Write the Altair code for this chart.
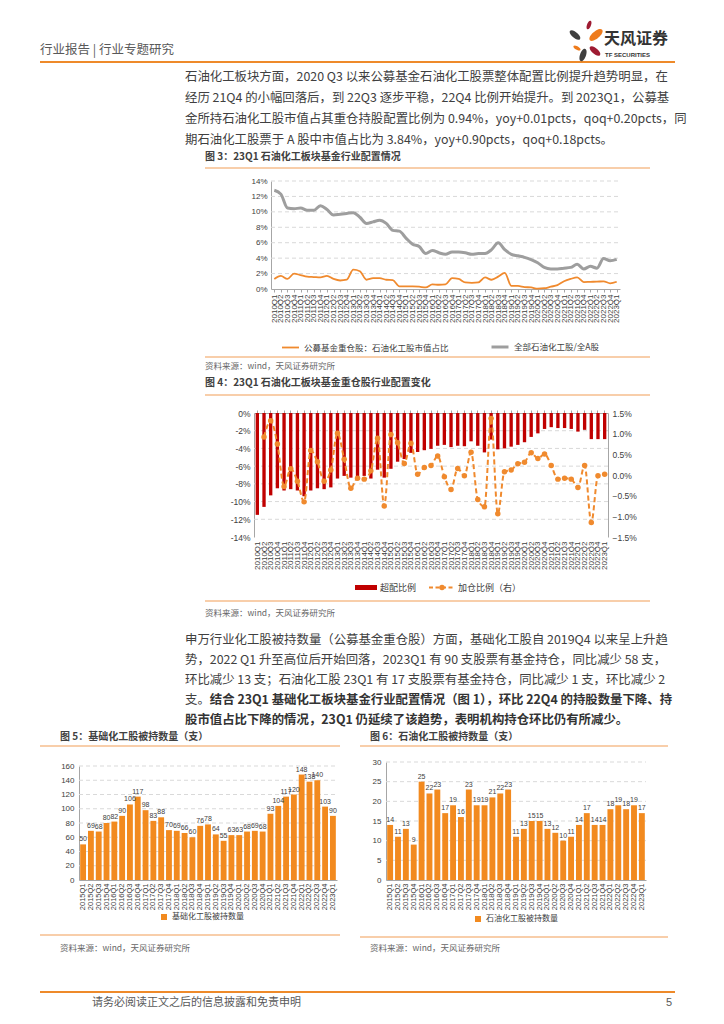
import altair as alt
import pandas as pd

CJK = "Noto Sans CJK SC"
LAT = "Liberation Sans"
W, H = 708, 1008

# ---------------- data ----------------
quarters_2010 = [f"{y}Q{q}" for y in range(2010, 2024) for q in (1, 2, 3, 4)][:53]
quarters_2015 = [f"{y}Q{q}" for y in range(2015, 2024) for q in (1, 2, 3, 4)][:33]

# Fig 3 (%)
fund_share = [1.3, 1.7, 1.3, 2.0, 1.8, 1.6, 1.55, 1.5, 1.7, 1.3,
              1.1, 1.2, 2.5, 2.3, 1.2, 1.4, 1.4, 1.2, 1.15, 0.35,
              0.35, 0.35, 0.3, 0.2, 0.6, 0.55, 0.6, 1.4, 1.3, 0.85,
              0.8, 0.85, 1.5, 1.2, 1.6, 2.1, 0.4, 0.4, 0.25, 0.2,
              0.05, 0.1, 0.3, 0.5, 1.0, 1.3, 1.5, 0.9, 0.93, 0.95,
              1.0, 0.74, 0.94]
all_share = [12.8, 12.3, 10.5, 10.4, 10.5, 10.2, 10.2, 10.8, 10.3, 9.6,
             9.7, 9.8, 9.9, 9.3, 8.5, 8.7, 8.9, 8.5, 7.6, 7.5,
             6.6, 5.8, 5.5, 4.6, 5.0, 4.7, 4.5, 4.8, 4.8, 4.7,
             4.5, 4.6, 4.6, 5.1, 6.0, 5.1, 4.5, 4.3, 4.1, 3.8,
             3.4, 2.8, 2.6, 2.6, 2.7, 2.8, 3.2, 2.6, 2.94, 2.7,
             3.95, 3.66, 3.84]

# Fig 4 (%)
overweight = [-11.5, -10.6, -9.3, -8.5, -8.75, -8.6, -8.75, -9.4, -8.75, -8.5,
              -8.6, -8.4, -7.4, -7.1, -7.3, -7.4, -7.1, -7.4, -6.4, -7.3,
              -6.3, -5.5, -5.2, -4.5, -4.4, -4.2, -4.05, -3.7, -3.6, -3.85,
              -3.7, -3.75, -3.2, -3.7, -4.45, -3.0, -4.1, -4.0, -3.8, -3.6,
              -3.3, -2.7, -2.3, -1.8, -1.6, -1.7, -1.7, -1.8, -2.1, -1.9,
              -2.95, -2.95, -2.95]
add_ratio = [None, 0.92, 1.31, 0.75, -0.28, 0.15, -0.15, -0.65, 0.59, 0.32,
             -0.15, 0.12, 1.01, 0.38, -0.32, -0.08, -0.1, 0.1, 0.89, -0.75,
             0.98, 0.78, 0.28, 0.77, 0.02, 0.18, 0.23, 0.46, -0.04, -0.35,
             0.16, -0.02, 0.55, -0.59, -0.77, 1.37, -0.94, 0.08, 0.12, 0.27,
             0.31, 0.54, 0.40, 0.51, 0.23, -0.1, -0.08, -0.1, -0.3, 0.23,
             -1.15, -0.02, 0.02]

# Fig 5 / Fig 6 (counts)
basic_count = [50, 69, 68, 80, 82, 90, 106, 117, 98, 83, 88, 70, 69, 66, 60, 76, 78,
               64, 55, 63, 63, 68, 69, 68, 93, 104, 117, 120, 148, 138, 140, 103, 90]
petro_count = [14, 11, 13, 9, 25, 22, 23, 17, 19, 16, 23, 19, 19, 21, 22, 23, 11,
               13, 15, 15, 13, 12, 10, 11, 14, 17, 14, 14, 18, 19, 18, 19, 17]

S3A = "公募基金重仓股：石油化工股市值占比"
S3B = "全部石油化工股/全A股"
S4A = "超配比例"
S4B = "加仓比例（右）"
S5 = "基础化工股被持数量"
S6 = "石油化工股被持数量"

y3_ticks = [0, 2, 4, 6, 8, 10, 12, 14]
y4_left_ticks = [-14, -12, -10, -8, -6, -4, -2, 0]
y4_right_ticks = [-1.5, -1.0, -0.5, 0.0, 0.5, 1.0, 1.5]
y5_ticks = [0, 20, 40, 60, 80, 100, 120, 140, 160]
y6_ticks = [0, 5, 10, 15, 20, 25, 30]

para1 = [
    "石油化工板块方面，2020 Q3 以来公募基金石油化工股票整体配置比例提升趋势明显，在",
    "经历 21Q4 的小幅回落后，到 22Q3 逐步平稳，22Q4 比例开始提升。到 2023Q1，公募基",
    "金所持石油化工股市值占其重仓持股配置比例为 0.94%，yoy+0.01pcts，qoq+0.20pcts，同",
    "期石油化工股票于 A 股中市值占比为 3.84%，yoy+0.90pcts，qoq+0.18pcts。",
]
para2 = [
    "申万行业化工股被持数量（公募基金重仓股）方面，基础化工股自 2019Q4 以来呈上升趋",
    "势，2022 Q1 升至高位后开始回落，2023Q1 有 90 支股票有基金持仓，同比减少 58 支，",
    "环比减少 13 支；石油化工股 23Q1 有 17 支股票有基金持仓，同比减少 1 支，环比减少 2",
]
para2_l4a = "支。"
para2_l4b = "结合 23Q1 基础化工板块基金行业配置情况（图 1），环比 22Q4 的持股数量下降、持"
para2_l5 = "股市值占比下降的情况，23Q1 仍延续了该趋势，表明机构持仓环比仍有所减少。"

SOURCE = "资料来源：wind，天风证券研究所"

# ---------------- style ----------------
OR_BAR = "#F28A1F"
OR_LINE = "#F08A2E"
GRAY_LINE = "#9E9E9E"
RED = "#C00000"
AXIS = "#A6A6A6"
GRID = "#D9D9D9"
RULE_LIGHT = "#F6BE8E"
RULE_DARK = "#EE8A2A"
TEXT = "#404040"
PFONT = 12.4

# plot rectangles (content px)
P3 = (263, 612, 173, 281)
P4 = (246, 600, 405, 529)
P5 = (71, 329, 758, 872)
P6 = (378, 638, 754, 872)

one = pd.DataFrame({"k": [0]})


def T(s, x, y, size=12, color=TEXT, weight="normal", align="left", font=CJK):
    return alt.Chart(one).mark_text(text=s, fontSize=size, color=color, fontWeight=weight,
                                    align=align, baseline="middle", font=font).encode(
        x=alt.value(x), y=alt.value(y))


def R(x1, x2, y, color=RULE_LIGHT, w=1.5):
    return alt.Chart(one).mark_rule(color=color, strokeWidth=w).encode(
        x=alt.value(x1), x2=alt.value(x2), y=alt.value(y))


def grid(ticks, domain, P):
    x0, x1, y0, y1 = P
    return alt.Chart(pd.DataFrame({"g": ticks})).mark_rule(
        color=GRID, strokeDash=[4, 3], strokeWidth=1).encode(
        y=alt.Y("g:Q", scale=alt.Scale(domain=domain, range=[y1, y0], nice=False, zero=False), axis=None),
        x=alt.value(x0), x2=alt.value(x1))


layers = []

# ---------------- header & logo ----------------
layers += [
    T("行业报告 | 行业专题研究", 32, 42, 12.5, "#595959"),
    R(32, 667, 54, RULE_DARK, 2),
]
PETAL = "M0,-1C0.6,-1,0.6,1,0,1C-0.6,1,-0.6,-1,0,-1Z"
for (px, py, sz, ang, col) in [
    (581, 17, 81, 20, "#9E1B32"),
    (588, 27, 256, 50, "#EE7B1C"),
    (567, 27, 169, 310, "#3F3F3F"),
    (569, 40, 64, 300, "#EE7B1C"),
    (587, 43, 169, 130, "#9E1B32"),
    (575, 47, 169, 20, "#3F3F3F"),
]:
    layers.append(alt.Chart(one).mark_point(shape=PETAL, filled=True, color=col, size=sz,
                                            angle=ang, opacity=1).encode(
        x=alt.value(px), y=alt.value(py)))
layers += [
    T("天风证券", 596, 31, 16, "#333333", "bold"),
    T("TF SECURITIES", 597, 47, 6, "#333333", "bold", font=LAT),
]

# ---------------- paragraph 1 ----------------
for i, line in enumerate(para1):
    layers.append(T(line, 177, 69 + 21 * i, PFONT))

# ---------------- Fig 3 ----------------
x0, x1, y0, y1 = P3
layers += [
    T("图 3：23Q1 石油化工板块基金行业配置情况", 197, 149, 10, TEXT, "bold"),
    R(197, 642, 160),
    grid(y3_ticks[1:], [0, 14], P3),
]
df3 = pd.DataFrame({"quarter": quarters_2010 * 2,
                    "series": [S3A] * 53 + [S3B] * 53,
                    "value": fund_share + all_share})
layers.append(alt.Chart(df3).mark_line(interpolate="monotone").encode(
    x=alt.X("quarter:N", sort=quarters_2010, title=None,
            scale=alt.Scale(type="point", padding=0.5, range=[x0, x1]),
            axis=alt.Axis(orient="bottom", offset=y1 - H, labelAngle=-90, labelFontSize=8,
                          labelFont=LAT, labelColor=TEXT, domainColor=AXIS, tickColor=AXIS,
                          tickSize=3, labelPadding=2)),
    y=alt.Y("value:Q", title=None,
            scale=alt.Scale(domain=[0, 14], range=[y1, y0], nice=False, zero=False),
            axis=alt.Axis(orient="left", offset=-x0, values=y3_ticks,
                          labelExpr="datum.value + '%'", ticks=False, grid=False,
                          domainColor=AXIS, labelFontSize=8, labelFont=LAT,
                          labelColor=TEXT, labelPadding=4)),
    color=alt.Color("series:N", scale=alt.Scale(domain=[S3A, S3B], range=[OR_LINE, GRAY_LINE]),
                    legend=alt.Legend(title=None, orient="none", legendX=273, legendY=329,
                                      direction="horizontal", symbolType="stroke", symbolSize=289,
                                      symbolStrokeWidth=2.5, labelFont=CJK, labelFontSize=8.5,
                                      labelColor=TEXT, columnPadding=36, padding=0)),
    strokeWidth=alt.StrokeWidth("series:N", scale=alt.Scale(domain=[S3A, S3B], range=[1.8, 3.0]),
                                legend=None),
))
layers += [
    R(197, 642, 349),
    T(SOURCE, 197, 358, 8.5, "#666666"),
]

# ---------------- Fig 4 ----------------
x0, x1, y0, y1 = P4
layers += [
    T("图 4：23Q1 石油化工板块基金重仓股行业配置变化", 197, 375, 10, TEXT, "bold"),
    R(197, 642, 387),
    grid([-12, -10, -8, -6, -4, -2], [-14, 0], P4),
]
df4 = pd.DataFrame({"quarter": quarters_2010, "over": overweight, "add": add_ratio})
layers.append(alt.Chart(df4).mark_bar(color=RED).encode(
    x=alt.X("quarter:N", sort=quarters_2010, title=None,
            scale=alt.Scale(type="band", paddingInner=0.5, paddingOuter=0.25, range=[x0, x1]),
            axis=alt.Axis(orient="top", offset=-y0, labels=False, ticks=True, tickSize=3,
                          tickColor=AXIS, domainColor=AXIS)),
    y=alt.Y("over:Q", title=None,
            scale=alt.Scale(domain=[-14, 0], range=[y1, y0], nice=False),
            axis=alt.Axis(orient="left", offset=-x0, values=y4_left_ticks,
                          labelExpr="datum.value + '%'", ticks=False, grid=False,
                          domainColor=AXIS, labelFontSize=8.5, labelFont=LAT,
                          labelColor=TEXT, labelPadding=4)),
))
xl4 = alt.Scale(type="point", padding=0.5, range=[x0, x1])
yl4 = alt.Scale(domain=[-1.5, 1.5], range=[y1, y0], nice=False, zero=False)
layers.append(alt.Chart(df4).mark_line(color=OR_LINE, strokeDash=[5, 3], strokeWidth=2,
                                       interpolate="monotone").encode(
    x=alt.X("quarter:N", sort=quarters_2010, title=None, scale=xl4,
            axis=alt.Axis(orient="bottom", offset=y1 - H, domain=False, ticks=False,
                          labelAngle=-90, labelFontSize=8, labelFont=LAT, labelColor=TEXT,
                          labelPadding=4)),
    y=alt.Y("add:Q", title=None, scale=yl4,
            axis=alt.Axis(orient="right", offset=x1 - W, values=y4_right_ticks,
                          labelExpr="format(datum.value, '.1f') + '%'", ticks=False, grid=False,
                          domainColor=AXIS, labelFontSize=8.5, labelFont=LAT,
                          labelColor=TEXT, labelPadding=4)),
))
layers.append(alt.Chart(df4).mark_point(filled=True, color=OR_LINE, size=30, opacity=1).encode(
    x=alt.X("quarter:N", sort=quarters_2010, scale=xl4, axis=None),
    y=alt.Y("add:Q", scale=yl4, axis=None),
))
# legend of fig 4
layers += [
    alt.Chart(one).mark_rect(color=RED).encode(x=alt.value(347), x2=alt.value(369),
                                               y=alt.value(577), y2=alt.value(582)),
    T(S4A, 372, 579.5, 9),
    alt.Chart(one).mark_rule(color=OR_LINE, strokeWidth=2, strokeDash=[4, 2.5]).encode(
        x=alt.value(421), x2=alt.value(447), y=alt.value(579.5)),
    alt.Chart(one).mark_point(filled=True, color=OR_LINE, size=30, opacity=1).encode(
        x=alt.value(434), y=alt.value(579.5)),
    T(S4B, 450, 579.5, 9),
    R(197, 642, 593),
    T(SOURCE, 197, 605, 8.5, "#666666"),
]

# ---------------- paragraph 2 ----------------
for i, line in enumerate(para2):
    layers.append(T(line, 177, 632 + 20 * i, PFONT))
layers += [
    T(para2_l4a, 177, 692, PFONT),
    T(para2_l4b, 177 + 2 * PFONT, 692, PFONT, "#333333", "bold"),
    T(para2_l5, 177, 712, PFONT, "#333333", "bold"),
]

# ---------------- Fig 5 & Fig 6 ----------------
layers += [
    T("图 5：基础化工股被持数量（支）", 52, 729, 10, TEXT, "bold"),
    T("图 6：石油化工股被持数量（支）", 362, 729, 10, TEXT, "bold"),
    R(32, 332, 738),
    R(352, 660, 738),
    grid(y5_ticks[1:], [0, 160], P5),
    grid(y6_ticks[1:], [0, 30], P6),
]


def count_chart(values, quarters, series, P, domain, ticks, legx, legy):
    x0, x1, y0, y1 = P
    df = pd.DataFrame({"quarter": quarters, "value": values, "series": series})
    xs = alt.Scale(type="band", paddingInner=0.25, paddingOuter=0.15, range=[x0, x1])
    ys = alt.Scale(domain=domain, range=[y1, y0], nice=False)
    bars = alt.Chart(df).mark_bar().encode(
        x=alt.X("quarter:N", sort=quarters, title=None, scale=xs,
                axis=alt.Axis(orient="bottom", offset=y1 - H, labelAngle=-90, ticks=False,
                              domainColor=AXIS, labelFontSize=7.5, labelFont=LAT,
                              labelColor=TEXT, labelPadding=3)),
        y=alt.Y("value:Q", title=None, scale=ys,
                axis=alt.Axis(orient="left", offset=-x0, values=ticks, ticks=False, grid=False,
                              domainColor=AXIS, labelFontSize=8, labelFont=LAT,
                              labelColor=TEXT, labelPadding=5)),
        color=alt.Color("series:N", scale=alt.Scale(domain=[series], range=[OR_BAR]),
                        legend=alt.Legend(title=None, orient="none", legendX=legx, legendY=legy,
                                          symbolType="square", symbolSize=36, labelFont=CJK,
                                          labelFontSize=8, labelColor=TEXT, padding=0)),
    )
    labels = alt.Chart(df).mark_text(baseline="bottom", dy=-2, fontSize=7, font=LAT,
                                     color=TEXT).encode(
        x=alt.X("quarter:N", sort=quarters, scale=xs, axis=None),
        y=alt.Y("value:Q", scale=ys, axis=None),
        text="value:Q",
    )
    return [bars, labels]


layers += count_chart(basic_count, quarters_2015, S5, P5, [0, 160], y5_ticks, 152, 905)
layers += count_chart(petro_count, quarters_2015, S6, P6, [0, 30], y6_ticks, 466, 907)

layers += [
    R(32, 332, 927),
    R(352, 660, 929),
    T(SOURCE, 52, 940, 8.5, "#666666"),
    T(SOURCE, 362, 940, 8.5, "#666666"),
    R(32, 667, 984, RULE_DARK, 2),
    T("请务必阅读正文之后的信息披露和免责申明", 84, 995, 11, "#595959"),
    T("5", 664, 995, 11, "#595959", align="right", font=LAT),
]

chart = alt.layer(*layers).resolve_scale(
    x="independent", y="independent", color="independent", strokeWidth="independent"
).resolve_legend(color="independent").properties(
    width=W, height=H, padding=0, background="white",
    autosize=alt.AutoSizeParams(type="none"),
).configure_view(strokeWidth=0)

chart.save("out.html", embed_options={"renderer": "svg", "actions": False})
